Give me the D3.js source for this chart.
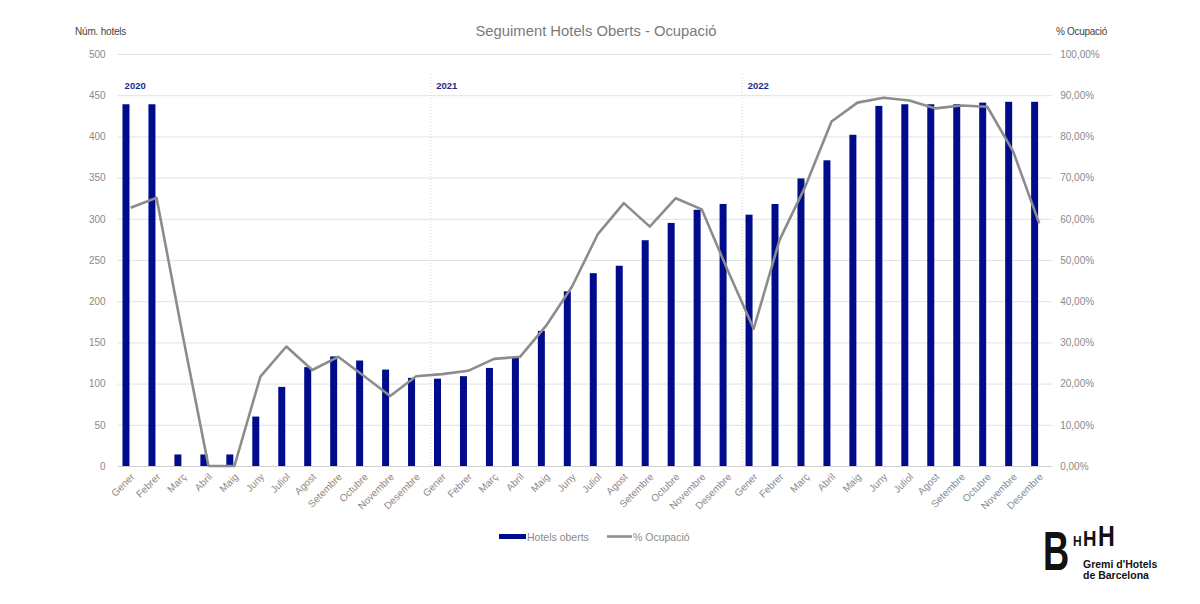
<!DOCTYPE html>
<html><head><meta charset="utf-8">
<script src="https://cdn.jsdelivr.net/npm/d3@7"></script>
<style>
body{margin:0;background:#fff;}
svg{display:block;font-family:"Liberation Sans",Arial,sans-serif;}
</style></head>
<body>
<svg id="chart" width="1200" height="604"></svg>
<script>
const months = ["Gener","Febrer","Març","Abril","Maig","Juny","Juliol","Agost","Setembre","Octubre","Novembre","Desembre"];
const years = ["2020","2021","2022"];
const hotels = [439,439,14,14,14,60,96,120,133,128,117,107,
                106,109,119,132,164,212,234,243,274,295,311,318,
                305,318,349,371,402,437,439,439,439,441,442,442];
const ocupacio = [62.7,65.1,32,0,0,21.7,29,23.3,26.5,21.8,17,21.8,
                  22.3,23.1,26,26.5,34,43.5,56.3,63.8,58.1,65,62.3,47.5,
                  33.3,54.9,68,83.6,88.2,89.4,88.7,86.8,87.5,87.2,76.3,58.9];
const leftTicks = [0,50,100,150,200,250,300,350,400,450,500];
const rightTicks = [0,10,20,30,40,50,60,70,80,90,100];

const cats = [];
years.forEach(y => months.forEach(m => cats.push(y + "-" + m)));
const data = cats.map((c,i) => ({key:c, month:c.split("-")[1], hotels:hotels[i], occ:ocupacio[i]}));

const svg = d3.select("#chart");
const L = 117.6, R = 1052.2, T = 54, B = 466;
const x = d3.scaleBand().domain(cats).range([L,R]).padding(0);
const yL = d3.scaleLinear().domain([0,500]).range([B,T]);
const yR = d3.scaleLinear().domain([0,100]).range([B,T]);
const bw = x.bandwidth();

// gridlines
svg.append("g").selectAll("line").data(leftTicks).join("line")
  .attr("x1",L).attr("x2",R)
  .attr("y1",d=>yL(d)+0.5).attr("y2",d=>yL(d)+0.5)
  .attr("stroke",d=>d===0?"#d0d0d0":"#e2e2e2").attr("stroke-width",1);

// left axis
const axL = d3.axisLeft(yL).tickValues(leftTicks).tickSize(0).tickPadding(12);
const gL = svg.append("g").attr("transform",`translate(${L},0)`).call(axL);
gL.select(".domain").remove();
gL.selectAll("text").attr("fill","#8a8a8a").style("font-size","10px");

// right axis
const fmtPct = d => d3.format(".2f")(d).replace(".",",") + "%";
const axR = d3.axisRight(yR).tickValues(rightTicks).tickSize(0).tickPadding(8).tickFormat(fmtPct);
const gR = svg.append("g").attr("transform",`translate(${R},0)`).call(axR);
gR.select(".domain").remove();
gR.selectAll("text").attr("fill","#8a8a8a").style("font-size","10px");

// year dividers and labels
years.forEach((yr,i) => {
  const x0 = x(yr + "-Gener");
  if (i>0) {
    svg.append("line").attr("x1",x0+1.5).attr("x2",x0+1.5).attr("y1",74).attr("y2",B)
      .attr("stroke","#d8d8d8").attr("stroke-dasharray","1,2").attr("stroke-width",1);
  }
  svg.append("text").attr("x",x0+7).attr("y",89).text(yr)
    .attr("fill","#1c2a8c").style("font-size","9.5px").style("font-weight","bold");
});

// bars
svg.append("g").selectAll("rect").data(data).join("rect")
  .attr("x",d=>x(d.key)+bw/2-4.6-3.5)
  .attr("width",7)
  .attr("y",d=>yL(d.hotels))
  .attr("height",d=>B-yL(d.hotels))
  .attr("fill","#000c8c");

// line
const line = d3.line().x(d=>x(d.key)+bw/2).y(d=>yR(d.occ));
svg.append("path").datum(data).attr("d",line)
  .attr("fill","none").attr("stroke","#8c8c8c").attr("stroke-width",2.6).attr("stroke-linejoin","round");

// x labels
svg.append("g").selectAll("text").data(data).join("text")
  .attr("transform",d=>`translate(${x(d.key)+bw/2+2},${B+9}) rotate(-45)`)
  .attr("text-anchor","end").attr("dy","0.35em")
  .attr("fill","#8a8a8a").style("font-size","10px")
  .text(d=>d.month);

// titles
svg.append("text").attr("x",596).attr("y",36).attr("text-anchor","middle")
  .attr("fill","#7a7a7a").style("font-size","14.8px").text("Seguiment Hotels Oberts - Ocupació");
svg.append("text").attr("x",75).attr("y",35).attr("fill","#444")
  .style("font-size","10px").style("letter-spacing","-0.2px").text("Núm. hotels");
svg.append("text").attr("x",1056).attr("y",35).attr("fill","#444")
  .style("font-size","10px").style("letter-spacing","-0.3px").text("% Ocupació");

// legend
const lg = svg.append("g");
lg.append("rect").attr("x",499).attr("y",534).attr("width",27).attr("height",5).attr("fill","#000c8c");
lg.append("text").attr("x",527).attr("y",540.5).attr("fill","#8a8a8a").style("font-size","10.5px").text("Hotels oberts");
lg.append("line").attr("x1",607).attr("x2",632).attr("y1",536.5).attr("y2",536.5).attr("stroke","#8c8c8c").attr("stroke-width",2.6);
lg.append("text").attr("x",633).attr("y",540.5).attr("fill","#8a8a8a").style("font-size","10.5px").text("% Ocupació");

// logo
const lo = svg.append("g");
lo.append("text").attr("transform","translate(1043,570) scale(0.66,1)").attr("fill","#111")
  .style("font-size","55px").style("font-weight","bold").text("B");
lo.append("text").attr("transform","translate(1073,546) scale(0.8,1)").attr("fill","#111").style("font-size","15px").style("font-weight","bold").text("H");
lo.append("text").attr("transform","translate(1083,546) scale(0.85,1)").attr("fill","#111").style("font-size","22px").style("font-weight","bold").text("H");
lo.append("text").attr("transform","translate(1098,546) scale(0.8,1)").attr("fill","#111").style("font-size","29px").style("font-weight","bold").text("H");
lo.append("text").attr("x",1083).attr("y",568).attr("fill","#111").style("font-size","10.5px").style("font-weight","bold").text("Gremi d'Hotels");
lo.append("text").attr("x",1083).attr("y",579).attr("fill","#111").style("font-size","10.5px").style("font-weight","bold").text("de Barcelona");
</script>
</body></html>
